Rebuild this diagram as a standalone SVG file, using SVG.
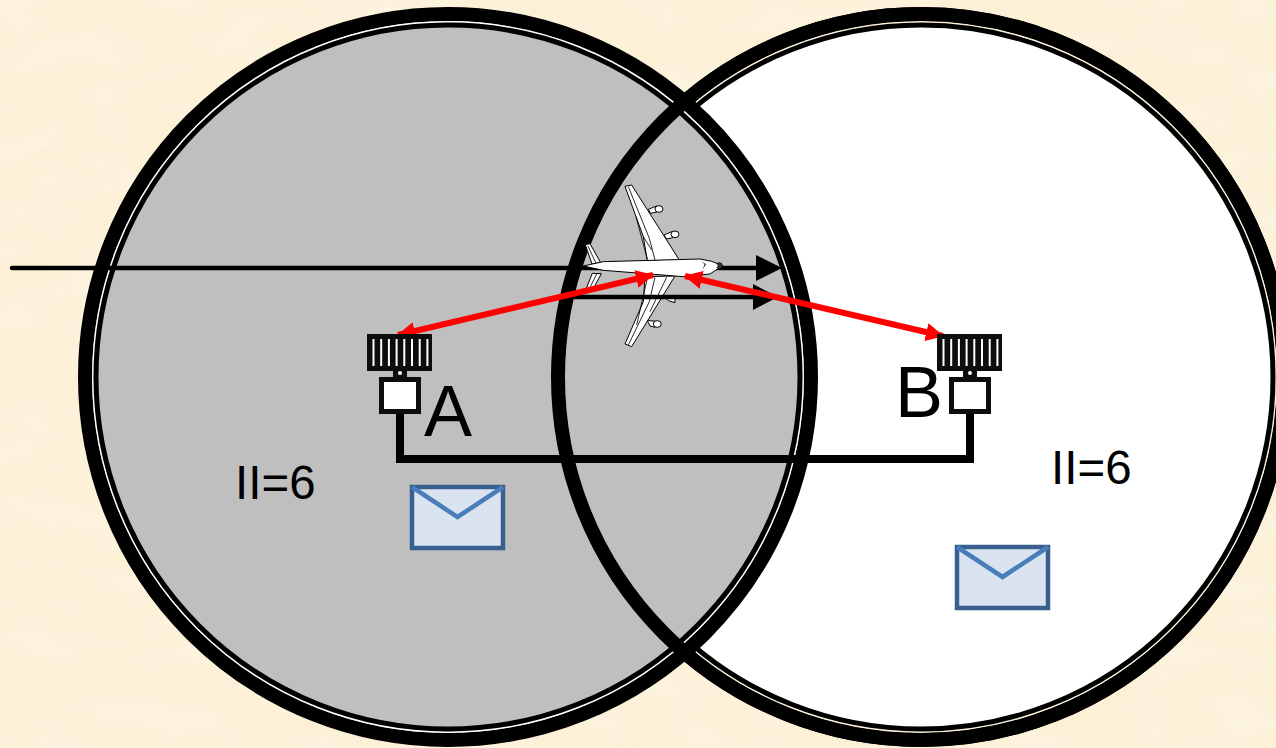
<svg xmlns="http://www.w3.org/2000/svg" width="1276" height="748" viewBox="0 0 1276 748">
<style>
.lbl{font-family:"Liberation Sans",Arial,sans-serif;fill:#000}
.big{font-size:72px}
.ii{font-size:47.5px}
.ring{fill:none;stroke:#000;stroke-width:14}
.thin{fill:none;stroke:#000;stroke-width:5}
.hair{fill:none;stroke-width:1.4}
.ant{fill:#0d0d0d}
.str{fill:#fff}
.env{fill:#dae4f1;stroke:#3a5f8f;stroke-width:4.5}
.flap{fill:none;stroke:#4a7ebb;stroke-width:4.5}
.pl{fill:#fff;stroke:#000;stroke-width:3;stroke-linejoin:round}
.pd{fill:none;stroke:#000;stroke-width:2.5}
.wire{fill:none;stroke:#000;stroke-width:8}
.red{stroke:#f00;stroke-width:6;fill:none}
.blk{stroke:#000;stroke-width:4.4;stroke-linecap:round;fill:none}
</style>
<defs>
<filter id="paper" x="0" y="0" width="100%" height="100%">
<feTurbulence type="fractalNoise" baseFrequency="0.015 0.03" numOctaves="4" seed="11"/>
<feColorMatrix type="matrix" values="0 0 0 0 1  0 0 0 0 0.96  0 0 0 0 0.88  1.8 0 0 0 -0.7"/>
</filter>
<g id="antenna">
<rect class="ant" x="-33" y="-80" width="65" height="37"/>
<rect class="ant" x="-7" y="-43" width="14" height="7"/>
<circle class="str" cx="0" cy="-41" r="2"/>
<rect class="str" x="-27.5" y="-75" width="2" height="27"/>
<rect class="str" x="-19.8" y="-75" width="2" height="27"/>
<rect class="str" x="-12.1" y="-75" width="2" height="27"/>
<rect class="str" x="-4.4" y="-75" width="2" height="27"/>
<rect class="str" x="3.3" y="-75" width="2" height="27"/>
<rect class="str" x="11" y="-75" width="2" height="27"/>
<rect class="str" x="18.7" y="-75" width="2" height="27"/>
<rect class="str" x="26.4" y="-75" width="2" height="27"/>
<rect x="-18.5" y="-34.5" width="37" height="32" fill="#fff" stroke="#0d0d0d" stroke-width="5"/>
</g>
<g id="envelope">
<rect class="env" x="0" y="0" width="91" height="61"/>
<polyline class="flap" points="0,0 45.5,30 91,0"/>
</g>
<marker id="redhead" viewBox="0 0 10 10" refX="9.5" refY="5" markerWidth="3" markerHeight="3" orient="auto-start-reverse" markerUnits="strokeWidth"><path d="M0,0L10,5L0,10z" fill="#f00"/></marker>
</defs>
<g id="background">
<rect width="1276" height="748" fill="#fcf0d6"/>
<rect width="1276" height="748" filter="url(#paper)" opacity="0.5"/>
</g>
<g id="circle-b">
<circle cx="921" cy="377" r="363" fill="#fff" stroke="#000" stroke-width="14"/>
<circle class="hair" cx="921" cy="377" r="355.2" stroke="#fdf0d6"/>
<circle class="thin" cx="921" cy="377" r="352"/>
</g>
<g id="circle-a">
<circle cx="448" cy="377" r="363" fill="#bfbfbf" stroke="#000" stroke-width="14"/>
<circle class="hair" cx="448" cy="377" r="355.2" stroke="#fff"/>
<circle class="thin" cx="448" cy="377" r="352"/>
</g>
<circle id="circle-b-overlay" class="ring" cx="921" cy="377" r="363"/>
<g id="connectors">
<line class="blk" x1="12" y1="268" x2="760" y2="268"/>
<path d="M756,255L782,268L756,281z" fill="#000"/>
<path class="wire" d="M400,414V459H970V414"/>
</g>
<g id="airplane" transform="translate(560 170) scale(.3333)">
<path class="pl" d="M265,118L290,108V126L272,130z"/><ellipse class="pl" cx="297" cy="117" rx="12" ry="10"/>
<path class="pl" d="M312,195L338,184V203L320,207z"/><ellipse class="pl" cx="345" cy="193" rx="12" ry="10"/>
<path class="pl" d="M318,384L345,384V398L325,392z"/>
<path class="pl" d="M262,452L285,453V472L270,468z"/><ellipse class="pl" cx="292" cy="462" rx="12" ry="10"/>
<path class="pl" d="M76,224L90,221L122,278L96,282z"/>
<path class="pd" d="M84,228L108,280"/>
<path class="pl" d="M97,310L124,311L100,356L78,358z"/>
<path class="pd" d="M110,312L88,356"/>
<path class="pl" d="M195,49L215,45L358,270L262,272L250,200z"/>
<path class="pd" d="M205,50L268,205L285,270M228,140L262,268M250,200L275,240"/>
<path class="pl" d="M345,318L255,320L250,395L195,522L215,530z"/>
<path class="pd" d="M205,525L268,395L285,322M230,465L262,325M320,322L270,425"/>
<path class="pl" d="M70,288L130,275L420,267L455,274L488,287L450,312L370,320L130,301z"/>
<path d="M424,274L438,283L428,298L434,283z" fill="#000"/>
<circle cx="478" cy="287" r="9" fill="#333" stroke="#000" stroke-width="2"/>
<circle cx="468" cy="287" r="5" fill="#fff"/>
</g>
<g id="connectors-top">
<line class="blk" x1="560" y1="297" x2="756" y2="297"/>
<path d="M753,284L778,297L753,310z" fill="#000"/>
</g>
<g id="signals">
<line class="red" x1="398" y1="335" x2="653" y2="275" marker-start="url(#redhead)" marker-end="url(#redhead)"/>
<line class="red" x1="685" y1="276" x2="943" y2="336" marker-start="url(#redhead)" marker-end="url(#redhead)"/>
</g>
<g id="node-a">
<use href="#antenna" x="400" y="414"/>
<text class="lbl big" x="424" y="436">A</text>
<text class="lbl ii" x="235" y="499">II=6</text>
<use href="#envelope" x="412" y="487"/>
</g>
<g id="node-b">
<use href="#antenna" x="970" y="414"/>
<text class="lbl big" x="895" y="417">B</text>
<text class="lbl ii" x="1051" y="484">II=6</text>
<use href="#envelope" x="957" y="547"/>
</g>
</svg>
